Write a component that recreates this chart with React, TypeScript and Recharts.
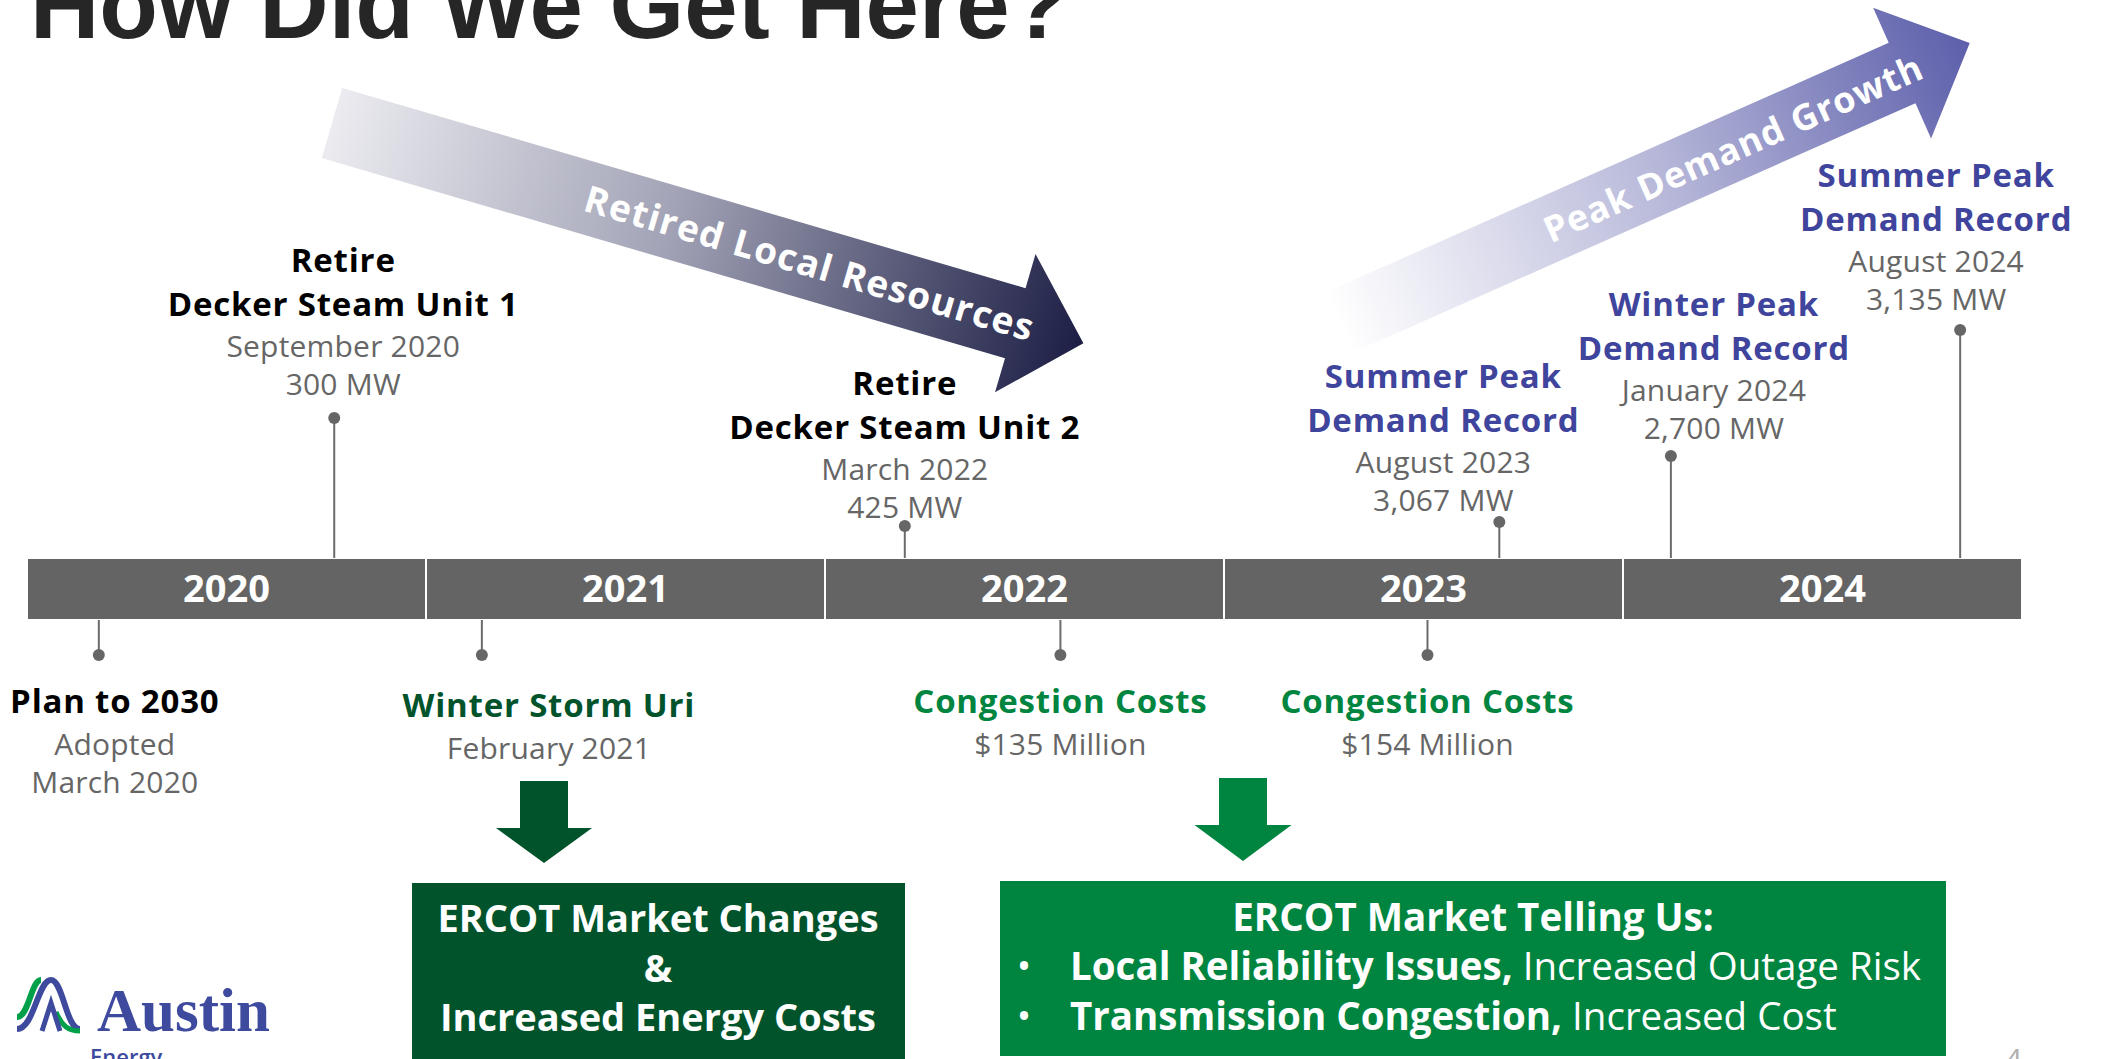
import { ComposedChart, XAxis, YAxis, Scatter, ReferenceArea, ReferenceLine } from "recharts";

// timeline years
const YEARS = [2020, 2021, 2022, 2023, 2024];

// events above the bar (date as decimal year, stem length in axis units)
const TOP_DATES = [2020.77, 2022.2, 2023.69, 2024.12, 2024.845];
const TOP_STEMS = [171, 63, 67, 133, 259];
const TOP_TITLES = [
    ["Retire", "Decker Steam Unit 1"],
    ["Retire", "Decker Steam Unit 2"],
    ["Summer Peak", "Demand Record"],
    ["Winter Peak", "Demand Record"],
    ["Summer Peak", "Demand Record"],
];
const TOP_DETAILS = [
    ["September 2020", "300 MW"],
    ["March 2022", "425 MW"],
    ["August 2023", "3,067 MW"],
    ["January 2024", "2,700 MW"],
    ["August 2024", "3,135 MW"],
];
const TOP_KIND = ["retire", "retire", "peak", "peak", "peak"];

// events below the bar
const BOTTOM_DATES = [2020.18, 2021.14, 2022.59, 2023.51];
const BOTTOM_STEMS = [-66, -66, -66, -66];
const BOTTOM_TITLES = ["Plan to 2030", "Winter Storm Uri", "Congestion Costs", "Congestion Costs"];
const BOTTOM_DETAILS = [["Adopted", "March 2020"], ["February 2021"], ["$135 Million"], ["$154 Million"]];
const BOTTOM_KIND = ["plan", "storm", "cost", "cost"];

// label placement relative to each dot: [dx, dy of nearest line]
const TOP_LABEL_POS = [[9, -35], [0, -20], [-56, -23], [43, -29], [-24, -32]];
const BOTTOM_LABEL_POS = [[16, 45], [67, 49], [0, 45], [0, 45]];

const W = 2105;
const H = 1059;
const PX_PER_YEAR = 399;
const BAR_LEFT = 27;
const BAR_CENTER = 589;
const BAR_HALF = 31;

const FONT = "'Open Sans', 'Noto Sans', sans-serif";
const GRAY = "#666666";
const PURPLE = "#3f449c";
const DARK_GREEN = "#00532b";
const GREEN = "#008540";

const titleColor: Record<string, string> = {
    retire: "#000000",
    peak: PURPLE,
    plan: "#000000",
    storm: DARK_GREEN,
    cost: GREEN,
};

const topData = TOP_DATES.map((d, i) => ({ x: d, y: TOP_STEMS[i], i }));
const bottomData = BOTTOM_DATES.map((d, i) => ({ x: d, y: BOTTOM_STEMS[i], i }));

const titleStyle = { fontSize: 33, fontWeight: 700, letterSpacing: 0.8 };
const detailStyle = { fontSize: 30, letterSpacing: 0.2 };

const TopEvent = (props: any) => {
    const { cx, cy, payload } = props;
    const i = payload.i;
    const [dx, dy] = TOP_LABEL_POS[i];
    const x = cx + dx;
    const d2 = cy + dy;
    const d1 = d2 - 38;
    const t2 = d1 - 42;
    const t1 = t2 - 44;
    const color = titleColor[TOP_KIND[i]];
    return (
        <g>
            <circle cx={cx} cy={cy} r={6} fill="#666" />
            <g fontFamily={FONT} textAnchor="middle" dominantBaseline="central">
                <text x={x} y={t1} style={titleStyle} fill={color}>{TOP_TITLES[i][0]}</text>
                <text x={x} y={t2} style={titleStyle} fill={color}>{TOP_TITLES[i][1]}</text>
                <text x={x} y={d1} style={detailStyle} fill={GRAY}>{TOP_DETAILS[i][0]}</text>
                <text x={x} y={d2} style={detailStyle} fill={GRAY}>{TOP_DETAILS[i][1]}</text>
            </g>
        </g>
    );
};

const BottomEvent = (props: any) => {
    const { cx, cy, payload } = props;
    const i = payload.i;
    const [dx, dy] = BOTTOM_LABEL_POS[i];
    const x = cx + dx;
    const t = cy + dy;
    const color = titleColor[BOTTOM_KIND[i]];
    return (
        <g>
            <circle cx={cx} cy={cy} r={6} fill="#666" />
            <g fontFamily={FONT} textAnchor="middle" dominantBaseline="central">
                <text x={x} y={t} style={titleStyle} fill={color}>{BOTTOM_TITLES[i]}</text>
                {BOTTOM_DETAILS[i].map((s, k) => (
                    <text key={k} x={x} y={t + 43 + k * 38} style={detailStyle} fill={GRAY}>{s}</text>
                ))}
            </g>
        </g>
    );
};

function arrowPoints(tx: number, ty: number, angle: number, len: number, shaftW: number, headW: number, headL: number) {
    const a = (angle * Math.PI) / 180;
    const ux = Math.cos(a), uy = Math.sin(a);
    const px = -uy, py = ux;
    const P = (s: number, t: number) => `${tx + ux * s + px * t},${ty + uy * s + py * t}`;
    const hb = len - headL;
    return [
        P(0, -shaftW / 2), P(hb, -shaftW / 2), P(hb, -headW / 2), P(len, 0),
        P(hb, headW / 2), P(hb, shaftW / 2), P(0, shaftW / 2),
    ].join(" ");
}

function downArrow(cx: number, top: number, headTop: number, tip: number, shaftW: number, headW: number) {
    return [
        [cx - shaftW / 2, top], [cx + shaftW / 2, top], [cx + shaftW / 2, headTop], [cx + headW / 2, headTop],
        [cx, tip], [cx - headW / 2, headTop], [cx - shaftW / 2, headTop],
    ].map((p) => p.join(",")).join(" ");
}

const Decor = () => {
    const rad1 = (16.33 * Math.PI) / 180;
    const rad2 = (-23.9 * Math.PI) / 180;
    return (
        <svg width={W} height={H} style={{ position: "absolute", left: 0, top: 0 }}>
            <defs>
                <linearGradient id="retGrad" gradientUnits="userSpaceOnUse" x1={332} y1={123}
                    x2={332 + 783 * Math.cos(rad1)} y2={123 + 783 * Math.sin(rad1)}>
                    <stop offset="0" stopColor="#ebebf0" />
                    <stop offset="0.45" stopColor="#a2a3b6" />
                    <stop offset="1" stopColor="#1c1e45" />
                </linearGradient>
                <linearGradient id="peakGrad" gradientUnits="userSpaceOnUse" x1={1338} y1={323}
                    x2={1338 + 691 * Math.cos(rad2)} y2={323 + 691 * Math.sin(rad2)}>
                    <stop offset="0" stopColor="#ffffff" />
                    <stop offset="0.5" stopColor="#b9bada" />
                    <stop offset="1" stopColor="#5d5fab" />
                </linearGradient>
            </defs>

            {/* title, cut off at the top of the slide */}
            <text x={30} y={38} fontFamily="'Liberation Sans', Arial, sans-serif" fontWeight={700}
                fontSize={96} fill="#262626">How Did We Get Here?</text>

            <polygon points={arrowPoints(332, 123, 16.33, 783, 73, 144, 71)} fill="url(#retGrad)" />
            <text x={810} y={262} transform="rotate(16.33 810 262)" textAnchor="middle" dominantBaseline="central"
                fontFamily={FONT} fontWeight={700} fontSize={37} letterSpacing={1.2} fill="#ffffff">Retired Local Resources</text>

            <polygon points={arrowPoints(1338, 323, -23.9, 691, 66, 143, 74)} fill="url(#peakGrad)" />
            <text x={1733} y={148} transform="rotate(-23.9 1733 148)" textAnchor="middle" dominantBaseline="central"
                fontFamily={FONT} fontWeight={700} fontSize={36} letterSpacing={1} fill="#ffffff">Peak Demand Growth</text>

            {/* consequence arrows and boxes */}
            <polygon points={downArrow(544, 781, 828, 863, 48, 96)} fill={DARK_GREEN} />
            <polygon points={downArrow(1243, 778, 825, 861, 48, 97)} fill={GREEN} />

            <rect x={412} y={883} width={493} height={190} fill={DARK_GREEN} />
            <g fontFamily={FONT} fontWeight={700} fontSize={38} fill="#fff" textAnchor="middle" dominantBaseline="central">
                <text x={658} y={917}>ERCOT Market Changes</text>
                <text x={658} y={967}>&amp;</text>
                <text x={658} y={1016}>Increased Energy Costs</text>
            </g>

            <rect x={1000} y={881} width={946} height={175} fill={GREEN} />
            <g fontFamily={FONT} fontSize={38.5} fill="#fff" dominantBaseline="central">
                <text x={1473} y={916} textAnchor="middle" fontWeight={700}>ERCOT Market Telling Us:</text>
                <text x={1024} y={965} textAnchor="middle">•</text>
                <text x={1070} y={965}>
                    <tspan fontWeight={700}>Local Reliability Issues,</tspan>
                    <tspan> Increased Outage Risk</tspan>
                </text>
                <text x={1024} y={1015} textAnchor="middle">•</text>
                <text x={1070} y={1015}>
                    <tspan fontWeight={700}>Transmission Congestion,</tspan>
                    <tspan> Increased Cost</tspan>
                </text>
            </g>

            {/* logo */}
            <g fill="none" strokeLinecap="butt">
                <path d="M17 1029 C34 1029 38 980 51 980 C63 980 66 1029 80 1029" stroke="#3e4a9e" strokeWidth={6} />
                <path d="M17 1017 C29 1017 31 980 41 980" stroke="#00a04b" strokeWidth={6} />
                <path d="M56 1012 C62 1026 68 1031 80 1031" stroke="#00a04b" strokeWidth={5} />
                <path d="M42 1031 L51 1003 L60 1031" stroke="#3e4a9e" strokeWidth={5} />
            </g>
            <text x={97} y={1031} fontFamily="'Liberation Serif', serif" fontWeight={700} fontSize={61}
                fill="#3e4a9e">Austin</text>
            <text x={90} y={1065} fontFamily={FONT} fontWeight={600} fontSize={22} fill="#3e4a9e">Energy</text>

            <text x={2005} y={1070} fontFamily={FONT} fontSize={30} fill="#b0b0b0">4</text>
        </svg>
    );
};

export default function App() {
    const xMin = YEARS[0] - BAR_LEFT / PX_PER_YEAR;
    const xMax = YEARS[0] + (W - BAR_LEFT) / PX_PER_YEAR;
    const yMin = BAR_CENTER - H;
    const yMax = BAR_CENTER;
    return (
        <div style={{ position: "relative", width: W, height: H, overflow: "hidden", background: "#fff" }}>
            <style>{`body{margin:0}`}</style>
            <Decor />
            <div style={{ position: "absolute", left: 0, top: 0 }}>
                <ComposedChart width={W} height={H} margin={{ top: 0, right: 0, bottom: 0, left: 0 }}>
                    <XAxis type="number" dataKey="x" domain={[xMin, xMax]} hide allowDataOverflow />
                    <YAxis type="number" dataKey="y" domain={[yMin, yMax]} hide allowDataOverflow />

                    {YEARS.map((yr) => (
                        <ReferenceArea key={yr} x1={yr} x2={yr + 1} y1={-BAR_HALF} y2={BAR_HALF}
                            fill="#646464" fillOpacity={1} stroke="#ffffff" strokeWidth={2}
                            label={{ value: String(yr), position: "center", fill: "#ffffff", fontSize: 38,
                                fontWeight: 700, fontFamily: FONT }} />
                    ))}

                    {topData.map((d) => (
                        <ReferenceLine key={"t" + d.i} segment={[{ x: d.x, y: d.y }, { x: d.x, y: BAR_HALF }]}
                            stroke="#6b6b6b" strokeWidth={2} />
                    ))}
                    {bottomData.map((d) => (
                        <ReferenceLine key={"b" + d.i} segment={[{ x: d.x, y: d.y }, { x: d.x, y: -BAR_HALF }]}
                            stroke="#6b6b6b" strokeWidth={2} />
                    ))}

                    <Scatter data={topData} shape={TopEvent} isAnimationActive={false} />
                    <Scatter data={bottomData} shape={BottomEvent} isAnimationActive={false} />
                </ComposedChart>
            </div>
        </div>
    );
}
